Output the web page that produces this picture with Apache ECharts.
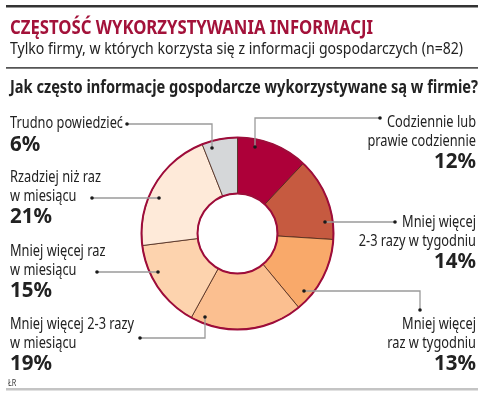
<!DOCTYPE html>
<html><head><meta charset="utf-8">
<script src="https://cdn.jsdelivr.net/npm/echarts@6/dist/echarts.min.js"></script>
<style>html,body{margin:0;padding:0;background:#fff}#c{width:482px;height:396px}</style>
</head><body><div id="c"></div>
<script>
const categories = [
  'Codziennie lub\nprawie codziennie',
  'Mniej więcej\n2-3 razy w tygodniu',
  'Mniej więcej\nraz w tygodniu',
  'Mniej więcej 2-3 razy\nw miesiącu',
  'Mniej więcej raz\nw miesiącu',
  'Rzadziej niż raz\nw miesiącu',
  'Trudno powiedzieć'
];
const values = [12, 14, 13, 19, 15, 21, 6];
const colors = ['#ad0039', '#c65a40', '#f9a96a', '#fbbf90', '#fdd3ae', '#feead9', '#d5d7d9'];
const titleText = 'CZĘSTOŚĆ WYKORZYSTYWANIA INFORMACJI';
const subtitleText = 'Tylko firmy, w których korzysta się z informacji gospodarczych (n=82)';
const questionText = 'Jak często informacje gospodarcze wykorzystywane są w firmie?';
const sourceText = 'ŁR';

const FONT = '"Noto Sans", "DejaVu Sans", sans-serif';
const CX = 237.5, CY = 233.5, R0 = 40, R1 = 96;

// measure helper to emulate the condensed typeface of the original
const mctx = document.createElement('canvas').getContext('2d');
function measure(text, font) { mctx.font = font; return mctx.measureText(text).width; }
function condense(text, font, width) { return width / measure(text, font); }

// label layout: [x, first-line baseline, align, leader polyline points]
const layout = [
  {x: 476, y: 128, align: 'right', pts: [[380,118],[255,118],[255,147]]},
  {x: 476, y: 228, align: 'right', pts: [[395,222],[325,222]]},
  {x: 476, y: 330, align: 'right', pts: [[420,310],[420,291],[304,291]]},
  {x: 10, y: 330, align: 'left', pts: [[140,338],[205,338],[205,317]]},
  {x: 10, y: 257, align: 'left', pts: [[97,272],[158,272]]},
  {x: 10, y: 183, align: 'left', pts: [[92,198],[159,198]]},
  {x: 10, y: 129, align: 'left', pts: [[127,124],[212,124],[212,148]]}
];

const F_TITLE = 'bold 19px ' + FONT;
const F_SUB = '16.5px ' + FONT;
const F_Q = 'bold 18.5px ' + FONT;
const F_LAB = '16.5px ' + FONT;
const F_PCT = 'bold 22px ' + FONT;
const sTitle = condense(titleText, F_TITLE, 363);
const sSub = condense(subtitleText, F_SUB, 453);
const sQ = condense(questionText, F_Q, 468);
const sLab = condense('Trudno powiedzieć', F_LAB, 113);
const sPct = condense('21%', F_PCT, 42);

function txt(text, x, baseline, size, font, color, align, sx) {
  return {type:'text', x:x, y:baseline - 0.34*size, scaleX:sx, z:20,
    style:{text:text, font:font, fill:color, align:align||'left', verticalAlign:'middle'}};
}

const graphics = [
  {type:'rect', shape:{x:6,y:5,width:472,height:2.5}, style:{fill:'#333'}},
  txt(titleText, 10, 35, 19, F_TITLE, '#a3123a', 'left', sTitle),
  txt(subtitleText, 10, 54.5, 16.5, F_SUB, '#222', 'left', sSub),
  {type:'rect', shape:{x:6,y:67,width:472,height:1.8}, style:{fill:'#555'}},
  txt(questionText, 10, 94, 18.5, F_Q, '#222', 'left', sQ),
  {type:'rect', shape:{x:6,y:388,width:472,height:2.5}, style:{fill:'#c4c4c4'}},
  txt(sourceText, 8, 386, 8, '8px ' + FONT, '#333', 'left', 0.9),
  {type:'circle', shape:{cx:CX,cy:CY,r:R1}, style:{fill:'none', stroke:'#9e0c3a', lineWidth:2}, z:10},
  {type:'circle', shape:{cx:CX,cy:CY,r:R0}, style:{fill:'none', stroke:'#9e0c3a', lineWidth:2}, z:10}
];

categories.forEach((name, i) => {
  const L = layout[i];
  const lines = name.split('\n');
  lines.forEach((ln, k) => {
    graphics.push(txt(ln, L.x, L.y + k*18.5, 16.5, F_LAB, '#222', L.align, sLab));
  });
  graphics.push(txt(values[i] + '%', L.x, L.y + (lines.length-1)*18.5 + 23, 22, F_PCT, '#222', L.align, sPct));
  graphics.push({type:'polyline', shape:{points:L.pts}, style:{stroke:'#9a9a9a', lineWidth:1.3, fill:'none'}, z:11});
  [L.pts[0], L.pts[L.pts.length-1]].forEach(p => {
    graphics.push({type:'circle', shape:{cx:p[0], cy:p[1], r:1.8}, style:{fill:'#1a1a1a'}, z:12});
  });
});

const chart = echarts.init(document.getElementById('c'), null, {renderer:'canvas'});
chart.setOption({
  animation: false,
  graphic: graphics,
  series: [{
    type: 'pie',
    center: [CX, CY],
    radius: [R0, R1],
    startAngle: 90,
    clockwise: true,
    label: {show:false},
    labelLine: {show:false},
    itemStyle: {borderColor:'#4a2418', borderWidth:0.8},
    emphasis: {disabled:true},
    data: categories.map((n, i) => ({name:n, value:values[i], itemStyle:{color:colors[i]}}))
  }]
});
</script></body></html>
